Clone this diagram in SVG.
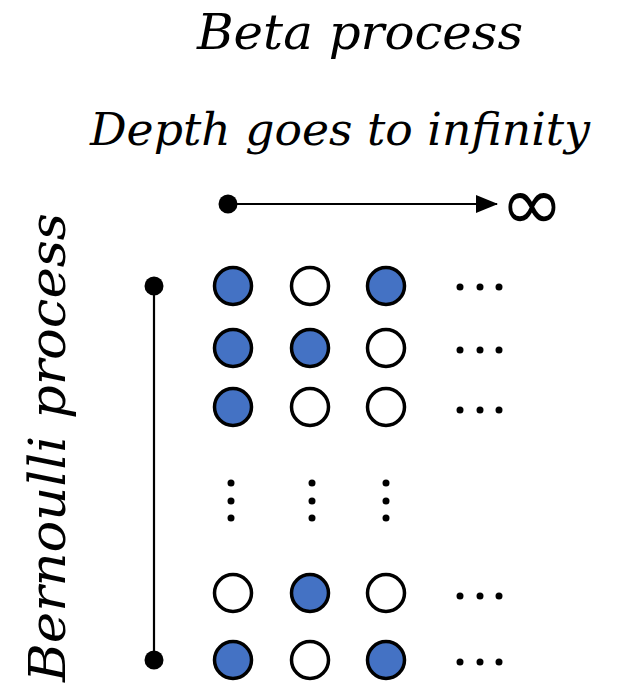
<svg xmlns="http://www.w3.org/2000/svg" width="626" height="685" viewBox="0 0 626 685">
  <defs>
    <style>
      .lbl { font-family: "DejaVu Serif", "Liberation Serif", serif; font-style: italic; fill: #000; }
      .on { fill: #4472C4; stroke: #000; stroke-width: 3.5; }
      .off { fill: #fff; stroke: #000; stroke-width: 3.5; }
      .dot { fill: #000; }
      .ln { stroke: #000; stroke-width: 2.2; fill: none; }
    </style>
    <marker id="arr" viewBox="0 0 22 18" refX="21" refY="9" markerWidth="22" markerHeight="18" markerUnits="userSpaceOnUse" orient="auto">
      <path d="M0,0 L22,9 L0,18 Z" fill="#000"/>
    </marker>
  </defs>
  <rect width="626" height="685" fill="#fff"/>

  <g id="title-beta">
    <text class="lbl" x="197" y="49" font-size="49" textLength="326" lengthAdjust="spacingAndGlyphs">Beta process</text>
  </g>
  <g id="title-depth">
    <text class="lbl" x="90" y="145" font-size="45" textLength="500" lengthAdjust="spacingAndGlyphs">Depth goes to infinity</text>
  </g>
  <g id="title-bernoulli">
    <text class="lbl" transform="translate(65,682) rotate(-90)" x="0" y="0" font-size="51" textLength="469" lengthAdjust="spacingAndGlyphs">Bernoulli process</text>
  </g>

  <g id="connectors">
    <line class="ln" x1="228" y1="204" x2="497" y2="204" marker-end="url(#arr)"/>
    <circle class="dot" cx="228" cy="204" r="9.5"/>
    <line class="ln" x1="154" y1="286" x2="154" y2="660"/>
    <circle class="dot" cx="154" cy="286" r="9.5"/>
    <circle class="dot" cx="154" cy="660" r="9.5"/>
  </g>

  <g id="infinity">
    <text x="532" y="230" font-family="DejaVu Sans, sans-serif" font-size="76" text-anchor="middle" fill="#000">∞</text>
  </g>

  <g id="row1">
    <circle class="on" cx="233" cy="286" r="18.5"/>
    <circle class="off" cx="310" cy="286" r="18.5"/>
    <circle class="on" cx="386" cy="286" r="18.5"/>
    <circle class="dot" cx="460" cy="287" r="3.5"/>
    <circle class="dot" cx="480" cy="287" r="3.5"/>
    <circle class="dot" cx="499" cy="287" r="3.5"/>
  </g>
  <g id="row2">
    <circle class="on" cx="233" cy="348" r="18.5"/>
    <circle class="on" cx="310" cy="348" r="18.5"/>
    <circle class="off" cx="386" cy="348" r="18.5"/>
    <circle class="dot" cx="460" cy="350" r="3.5"/>
    <circle class="dot" cx="480" cy="350" r="3.5"/>
    <circle class="dot" cx="499" cy="350" r="3.5"/>
  </g>
  <g id="row3">
    <circle class="on" cx="233" cy="407" r="18.5"/>
    <circle class="off" cx="310" cy="407" r="18.5"/>
    <circle class="off" cx="386" cy="407" r="18.5"/>
    <circle class="dot" cx="460" cy="410" r="3.5"/>
    <circle class="dot" cx="480" cy="410" r="3.5"/>
    <circle class="dot" cx="499" cy="410" r="3.5"/>
  </g>
  <g id="vdots">
    <circle class="dot" cx="231" cy="483" r="3.5"/>
    <circle class="dot" cx="231" cy="501" r="3.5"/>
    <circle class="dot" cx="231" cy="518" r="3.5"/>
    <circle class="dot" cx="312" cy="483" r="3.5"/>
    <circle class="dot" cx="312" cy="501" r="3.5"/>
    <circle class="dot" cx="312" cy="518" r="3.5"/>
    <circle class="dot" cx="386" cy="483" r="3.5"/>
    <circle class="dot" cx="386" cy="501" r="3.5"/>
    <circle class="dot" cx="386" cy="518" r="3.5"/>
  </g>
  <g id="row5">
    <circle class="off" cx="233" cy="593" r="18.5"/>
    <circle class="on" cx="310" cy="593" r="18.5"/>
    <circle class="off" cx="386" cy="593" r="18.5"/>
    <circle class="dot" cx="460" cy="596" r="3.5"/>
    <circle class="dot" cx="480" cy="596" r="3.5"/>
    <circle class="dot" cx="499" cy="596" r="3.5"/>
  </g>
  <g id="row6">
    <circle class="on" cx="233" cy="660" r="18.5"/>
    <circle class="off" cx="310" cy="660" r="18.5"/>
    <circle class="on" cx="386" cy="660" r="18.5"/>
    <circle class="dot" cx="460" cy="662" r="3.5"/>
    <circle class="dot" cx="480" cy="662" r="3.5"/>
    <circle class="dot" cx="499" cy="662" r="3.5"/>
  </g>
</svg>
